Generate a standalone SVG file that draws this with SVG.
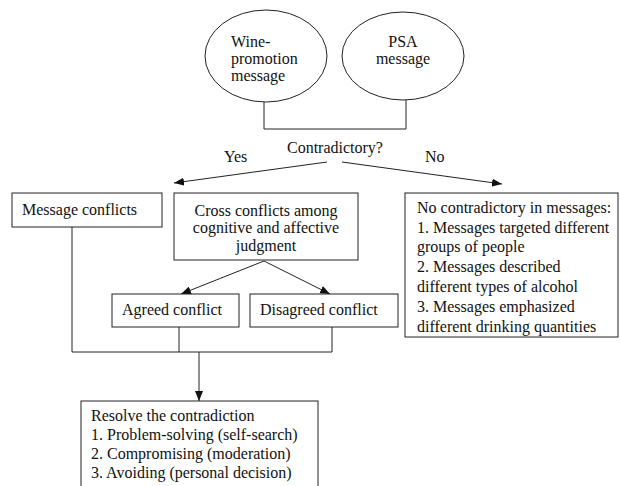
<svg xmlns="http://www.w3.org/2000/svg" width="620" height="486" viewBox="0 0 620 486">
<style>
  .shape { fill: #fff; stroke: #222; stroke-width: 1; }
  .conn { fill: none; stroke: #222; stroke-width: 1; }
  .t { font-size: 16px; fill: #111; }
  .mid { text-anchor: middle; }
</style>
<defs>
  <marker id="arrow" markerWidth="10" markerHeight="8" refX="10" refY="4" orient="auto" markerUnits="userSpaceOnUse">
    <path d="M0,0 L10,4 L0,8 Z" fill="#111"/>
  </marker>
</defs>
<rect width="620" height="486" fill="#fff"/>

<g id="connectors">
  <polyline class="conn" points="264,102 264,129 406,129 406,100"/>
  <line class="conn" x1="327" y1="162" x2="174" y2="183" marker-end="url(#arrow)"/>
  <line class="conn" x1="342" y1="162" x2="502" y2="184" marker-end="url(#arrow)"/>
  <line class="conn" x1="264" y1="261" x2="181" y2="294" marker-end="url(#arrow)"/>
  <line class="conn" x1="264" y1="261" x2="330" y2="294" marker-end="url(#arrow)"/>
  <polyline class="conn" points="72,227 72,352 332,352 332,327"/>
  <line class="conn" x1="179" y1="327" x2="179" y2="352"/>
  <line class="conn" x1="199" y1="352" x2="199" y2="401" marker-end="url(#arrow)"/>
</g>

<g font-family="Liberation Serif, Times New Roman, serif" font-size="16" class="t">
<g id="labels">
  <text x="287" y="153">Contradictory?</text>
  <text x="224" y="162">Yes</text>
  <text x="425" y="162">No</text>
</g>

<g id="wine">
  <ellipse class="shape" cx="266" cy="56" rx="61" ry="46"/>
  <text x="231" y="47">Wine-</text>
  <text x="231" y="64">promotion</text>
  <text x="231" y="81">message</text>
</g>

<g id="psa">
  <ellipse class="shape" cx="403" cy="56" rx="61" ry="44"/>
  <text class="mid" x="403" y="47">PSA</text>
  <text class="mid" x="403" y="64">message</text>
</g>

<g id="message-conflicts">
  <rect class="shape" x="12" y="193" width="150" height="34"/>
  <text x="22" y="215">Message conflicts</text>
</g>

<g id="cross-conflicts">
  <rect class="shape" x="174" y="193" width="184" height="67"/>
  <text class="mid" x="266" y="216">Cross conflicts among</text>
  <text class="mid" x="266" y="233">cognitive and affective</text>
  <text class="mid" x="266" y="251">judgment</text>
</g>

<g id="agreed">
  <rect class="shape" x="112" y="294" width="127" height="33"/>
  <text x="122" y="315">Agreed conflict</text>
</g>

<g id="disagreed">
  <rect class="shape" x="250" y="294" width="148" height="33"/>
  <text x="260" y="315">Disagreed conflict</text>
</g>

<g id="no-contradictory">
  <rect class="shape" x="405" y="193" width="213" height="144"/>
  <text x="417" y="213">No contradictory in messages:</text>
  <text x="417" y="233">1. Messages targeted different</text>
  <text x="417" y="252">groups of people</text>
  <text x="417" y="272">2. Messages described</text>
  <text x="417" y="292">different types of alcohol</text>
  <text x="417" y="312">3. Messages emphasized</text>
  <text x="417" y="332">different drinking quantities</text>
</g>

<g id="resolve">
  <rect class="shape" x="81" y="401" width="237" height="95"/>
  <text x="91" y="421">Resolve the contradiction</text>
  <text x="91" y="440">1. Problem-solving (self-search)</text>
  <text x="91" y="459">2. Compromising (moderation)</text>
  <text x="91" y="478">3. Avoiding (personal decision)</text>
</g>
</g>
</svg>
